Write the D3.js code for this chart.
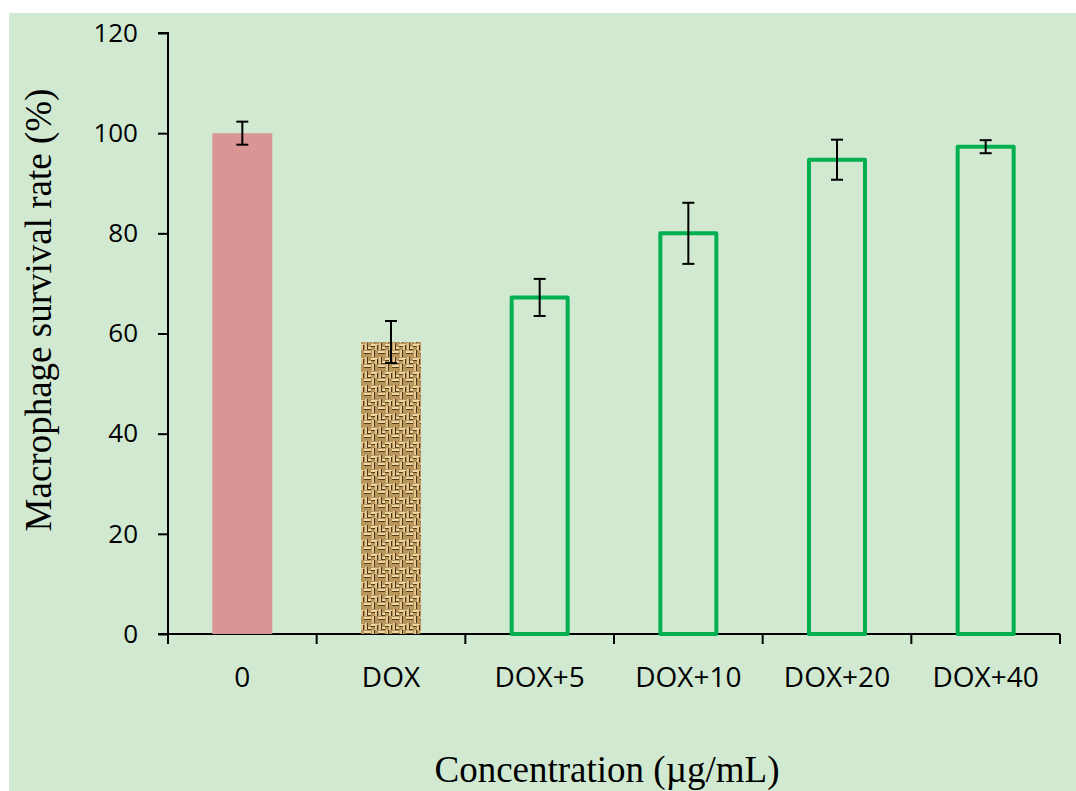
<!DOCTYPE html>
<html>
<head>
<meta charset="utf-8">
<title>Macrophage survival</title>
<script src="https://d3js.org/d3.v7.min.js"></script>
<style>
	body { margin: 0; background: #fff; }
	.tick text { font-family: 'Open Sans', 'Liberation Sans', sans-serif; font-size: 26px; fill: #000; }
	.xlab text { font-size: 28px; }
	.title { font-family: 'Liberation Serif', 'Times New Roman', serif; font-size: 37px; fill: #000; }
</style>
</head>
<body>
<script>
// data
var groups = ["0", "DOX", "DOX+5", "DOX+10", "DOX+20", "DOX+40"];
var survival = [100, 58.3, 67.2, 80.0, 94.7, 97.3];
var errors = [2.3, 4.2, 3.7, 6.1, 4.0, 1.3];
var yTicks = [0, 20, 40, 60, 80, 100, 120];

var W = 1076, H = 791;
var margin = {left: 168, right: 1060, top: 33, bottom: 634};

var svg = d3.select("body").append("svg")
	.attr("width", W)
	.attr("height", H);

// panel
svg.append("rect")
	.attr("x", 9).attr("y", 13)
	.attr("width", W - 9).attr("height", H - 13)
	.attr("fill", "#d0e9d0");

// burlap texture for the DOX bar
var defs = svg.append("defs");
var pat = defs.append("pattern")
	.attr("id", "burlap")
	.attr("patternUnits", "userSpaceOnUse")
	.attr("width", 14).attr("height", 14);
pat.append("rect").attr("width", 14).attr("height", 14).attr("fill", "#b8955a");
// horizontal threads
[[0, 1, 7], [7, 8, 7], [3, 11, 4]].forEach(function(h) {
	pat.append("rect").attr("x", h[0]).attr("y", h[1]).attr("width", h[2]).attr("height", 2).attr("fill", "#ecd6a2");
	pat.append("rect").attr("x", h[0]).attr("y", h[1] + 2).attr("width", h[2]).attr("height", 1).attr("fill", "#5a3e1c");
});
// vertical threads
[[8, 0, 7], [1, 7, 7], [11, 9, 5]].forEach(function(v) {
	pat.append("rect").attr("x", v[0]).attr("y", v[1]).attr("width", 2).attr("height", v[2]).attr("fill", "#e2c890");
	pat.append("rect").attr("x", v[0] + 2).attr("y", v[1]).attr("width", 1).attr("height", v[2]).attr("fill", "#4e3416");
});

var x = d3.scaleBand().domain(groups).range([margin.left, margin.right]).padding(0);
var y = d3.scaleLinear().domain([0, 120]).range([margin.bottom, margin.top]);

// y axis
var yAxis = d3.axisLeft(y).tickValues(yTicks).tickSize(10).tickPadding(20);
var gy = svg.append("g").attr("transform", "translate(" + margin.left + ",0)").call(yAxis);
gy.selectAll("path, line").attr("stroke", "#000").attr("stroke-width", 2);
gy.select(".domain").attr("d", "M-10," + y(120) + "H0V" + y(0));

// x axis, ticks at category boundaries
var gx = svg.append("g").attr("transform", "translate(0," + margin.bottom + ")");
gx.append("line").attr("x1", margin.left - 10).attr("x2", margin.right).attr("stroke", "#000").attr("stroke-width", 2);
var edges = groups.map(function(g) { return x(g); }).concat([margin.right]);
gx.selectAll(".edge").data(edges).enter().append("line")
	.attr("x1", function(d) { return d; }).attr("x2", function(d) { return d; })
	.attr("y1", 0).attr("y2", 10)
	.attr("stroke", "#000").attr("stroke-width", 2);
gx.selectAll(".lbl").data(groups).enter().append("g").attr("class", "tick xlab")
	.append("text")
	.attr("x", function(d) { return x(d) + x.bandwidth() / 2; })
	.attr("y", 53)
	.attr("text-anchor", "middle")
	.text(function(d) { return d; });

// bars
var bw = 60;
var fills = ["#d99594", "url(#burlap)", "none", "none", "none", "none"];
svg.append("g").selectAll("rect").data(groups).enter().append("rect")
	.attr("x", function(d, i) { return x(d) + x.bandwidth() / 2 - (i > 1 ? bw / 2 - 2 : bw / 2); })
	.attr("width", function(d, i) { return i > 1 ? bw - 4 : bw; })
	.attr("y", function(d, i) { return y(survival[i]); })
	.attr("height", function(d, i) { return y(0) - y(survival[i]); })
	.attr("fill", function(d, i) { return fills[i]; })
	.attr("stroke", function(d, i) { return i > 1 ? "#00b050" : "none"; })
	.attr("stroke-width", 4)
	.attr("stroke-linejoin", "round");

// error bars
var eb = svg.append("g").attr("stroke", "#000").attr("stroke-width", 2);
groups.forEach(function(g, i) {
	var cx = x(g) + x.bandwidth() / 2;
	var hi = y(survival[i] + errors[i]), lo = y(survival[i] - errors[i]);
	eb.append("line").attr("x1", cx).attr("x2", cx).attr("y1", hi).attr("y2", lo);
	eb.append("line").attr("x1", cx - 6).attr("x2", cx + 6).attr("y1", hi).attr("y2", hi);
	eb.append("line").attr("x1", cx - 6).attr("x2", cx + 6).attr("y1", lo).attr("y2", lo);
});

// axis titles
svg.append("text").attr("class", "title")
	.attr("transform", "translate(51,310) rotate(-90)")
	.attr("text-anchor", "middle")
	.text("Macrophage survival rate (%)");
svg.append("text").attr("class", "title")
	.attr("x", 607).attr("y", 782)
	.attr("text-anchor", "middle")
	.text("Concentration (\u00b5g/mL)");
</script>
</body>
</html>
